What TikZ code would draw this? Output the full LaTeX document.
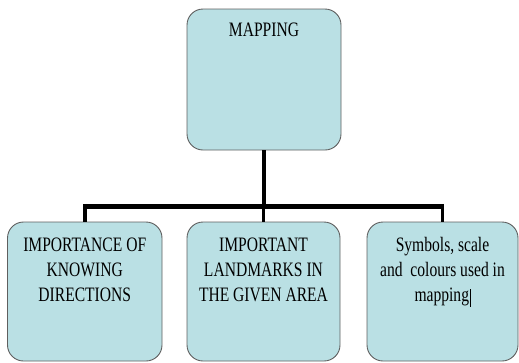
\documentclass[tikz,border=0pt]{standalone}
\usepackage{fontspec}
\setmainfont{Liberation Serif}[FakeStretch=0.76]
\usetikzlibrary{calc}
\definecolor{boxfill}{RGB}{186,224,228}
\definecolor{boxline}{RGB}{95,95,95}
\begin{document}
\begin{tikzpicture}[x=1pt,y=-1pt,
  box/.style={draw=boxline, line width=0.9pt, fill=boxfill, rounded corners=16pt, inner sep=0pt},
  lbl/.style={font=\fontsize{20.5}{25}\selectfont, align=center, inner sep=0pt, text=black},
  stem/.style={line width=3.5pt, line cap=butt},
  bar/.style={line width=5pt, line cap=butt}]
\useasboundingbox (0,0) rectangle (519,362);
% boxes
\node[box, minimum width=154pt, minimum height=141pt] (top) at (264,79.5) {};
\node[box, minimum width=154.5pt, minimum height=139pt] (b1) at (84.75,291.5) {};
\node[box, minimum width=153pt, minimum height=139pt] (b2) at (263.5,291.5) {};
\node[box, minimum width=151pt, minimum height=139pt] (b3) at (442.5,291.5) {};
% texts
\node[lbl, anchor=base] (t0) at ($(top.north)+(0,28.3)$) {MAPPING};
\node[lbl, anchor=north] (t1) at ($(b1.north)+(0,15.7)$) {IMPORTANCE OF\\KNOWING\\DIRECTIONS};
\node[lbl, anchor=north] (t2) at ($(b2.north)+(0,15.7)$) {IMPORTANT\\LANDMARKS IN\\THE GIVEN AREA};
\node[lbl, anchor=north] (t3) at ($(b3.north)+(0,15.7)$) {Symbols, scale\\and\ \ colours used in\\mapping\kern0.5pt\rule[-5pt]{0.9pt}{18pt}};
% connectors
\coordinate (hub) at ($(top.south)+(0,56)$);
\draw[stem] (top.south) -- (hub);
\draw[bar] ($(b1.north |- hub)+(-1.75,0)$) -- ($(b3.north |- hub)+(1.75,0)$);
\foreach \b in {b1,b2,b3}
  \draw[stem] ($(\b.north |- hub)+(0,-2.5)$) -- (\b.north);
\end{tikzpicture}
\end{document}
